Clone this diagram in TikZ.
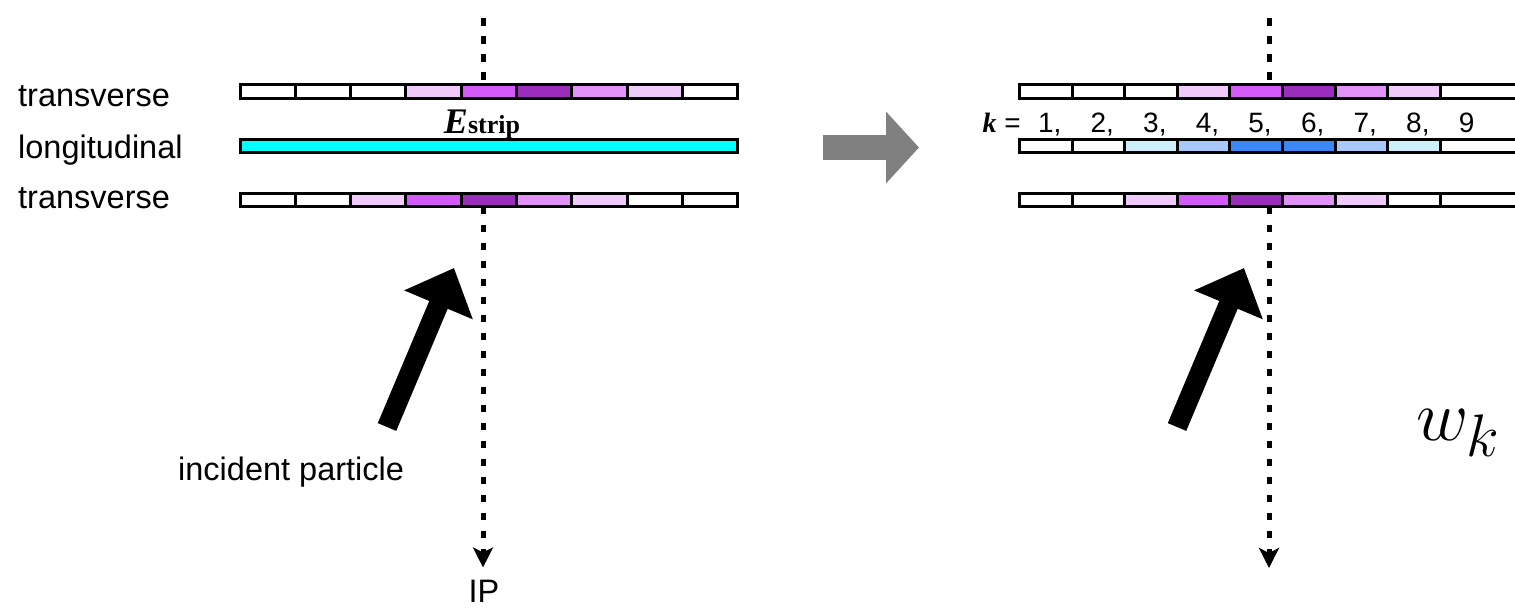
\documentclass[tikz,border=0pt]{standalone}
\usepackage{fontspec}
\usetikzlibrary{arrows.meta}
\newfontfamily\lsans{Liberation Sans}
\newfontfamily\lserif{Liberation Serif}
\definecolor{W}{HTML}{FFFFFF}
\definecolor{Lt}{HTML}{EFCAFB}
\definecolor{Mg}{HTML}{D35AF7}
\definecolor{Dk}{HTML}{9A2DBB}
\definecolor{Md}{HTML}{E192F7}
\definecolor{Cy}{HTML}{00FFFF}
\definecolor{Bl}{HTML}{CDEEFB}
\definecolor{Bm}{HTML}{A9C8FA}
\definecolor{Bd}{HTML}{3B87F5}
\definecolor{Gr}{HTML}{808080}
\begin{document}
\begin{tikzpicture}[x=1pt,y=-1pt,
  cell/.style={draw=black, line width=3pt, inner sep=0pt, outer sep=0pt, minimum height=13.5pt},
  lcell/.style={cell, minimum width=55.3pt},
  rcell/.style={cell, minimum width=52.6pt},
  lbl/.style={anchor=base west, inner sep=0pt, font=\lsans\fontsize{32.5}{36}\selectfont},
  num/.style={anchor=base, inner sep=0pt, font=\lsans\fontsize{28}{32}\selectfont},
  dline/.style={line width=5pt, dash pattern=on 7.5pt off 10.5pt},
  tipline/.style={dline, -{Stealth[width=20pt,length=20pt,inset=5pt]}},
  bigarrow/.style={line width=20pt, -{Triangle[width=72pt,length=40pt]}},
  grayarrow/.style={Gr, line width=25pt, -{Triangle[width=70pt,length=33pt]}}]
\useasboundingbox (0,0) rectangle (1515,608);
\clip (0,0) rectangle (1515,608);

% ---------- left panel ----------
\foreach \c [count=\i] in {W,W,W,Lt,Mg,Dk,Md,Lt,W}
  \node[lcell, fill=\c] (LT\i) at ({240+55.3*(\i-0.5)},91.5) {};
\node[cell, fill=Cy, minimum width=497pt, minimum height=13pt] (LM) at (489,146) {};
\foreach \c [count=\i] in {W,W,Lt,Mg,Dk,Md,Lt,W,W}
  \node[lcell, fill=\c] (LB\i) at ({240+55.3*(\i-0.5)},200) {};

\node[lbl] (t1) at (18,106) {transverse};
\node[lbl] (t2) at (18,158) {longitudinal};
\node[lbl] (t3) at (18,208) {transverse};

\node[anchor=base, inner sep=0pt] (Es) at (482,133)
  {{\lserif\bfseries\itshape\fontsize{36}{40}\selectfont E}{\lserif\bfseries\fontsize{26}{30}\selectfont strip}};

\coordinate (Ltop) at (483,18);
\draw[dline] (Ltop) -- (Ltop |- LT5.north);
\node[lbl, anchor=base] (IP) at (484,602) {IP};
\draw[tipline] (LB5.south -| Ltop) -- ([yshift=12pt]IP.north -| Ltop);

\coordinate (LA0) at (387,427);
\coordinate (LA1) at (454,268);
\draw[bigarrow] (LA0) -- (LA1);
\node[lbl] (inc) at (178,480) {incident particle};

% ---------- middle gray arrow ----------
\coordinate (G0) at (823,147.5);
\coordinate (G1) at (919,147.5);
\draw[grayarrow] (G0) -- (G1);

% ---------- right panel ----------
\foreach \c [count=\i] in {W,W,W,Lt,Mg,Dk,Md,Lt}
  \node[rcell, fill=\c] (RT\i) at ({1019.5+52.6*(\i-0.5)},91.5) {};
\node[cell, fill=W, minimum width=120pt, anchor=west] (RT9) at (RT8.east) {};
\foreach \c [count=\i] in {W,W,Bl,Bm,Bd,Bd,Bm,Bl}
  \node[rcell, fill=\c, minimum height=13pt] (RM\i) at ({1019.5+52.6*(\i-0.5)},146) {};
\node[cell, fill=W, minimum width=120pt, minimum height=13pt, anchor=west] (RM9) at (RM8.east) {};
\foreach \c [count=\i] in {W,W,Lt,Mg,Dk,Md,Lt,W}
  \node[rcell, fill=\c] (RB\i) at ({1019.5+52.6*(\i-0.5)},200) {};
\node[cell, fill=W, minimum width=120pt, anchor=west] (RB9) at (RB8.east) {};

\node[anchor=base east, inner sep=0pt] (keq) at (1021,132)
  {{\lserif\bfseries\itshape\fontsize{28}{32}\selectfont k}{\lsans\fontsize{28}{32}\selectfont\ =}};
\foreach \i in {1,...,8}
  \node[num] (k\i) at ({1019.5+52.6*(\i-0.5)},132) {\i\rlap{,}};
\node[num] (k9) at ({1019.5+52.6*8.5},132) {9};

\coordinate (Rtop) at (1269,18);
\draw[dline] (Rtop) -- (Rtop |- RT5.north);
\coordinate (Rend) at (1269,568);
\draw[tipline] (RB5.south -| Rtop) -- (Rend);

\coordinate (RA0) at (1177,427);
\coordinate (RA1) at (1244,268);
\draw[bigarrow] (RA0) -- (RA1);

\node[anchor=base west, inner sep=0pt, scale=2.894] (wk) at (1416,440) {\Huge $w_k$};
\end{tikzpicture}
\end{document}
